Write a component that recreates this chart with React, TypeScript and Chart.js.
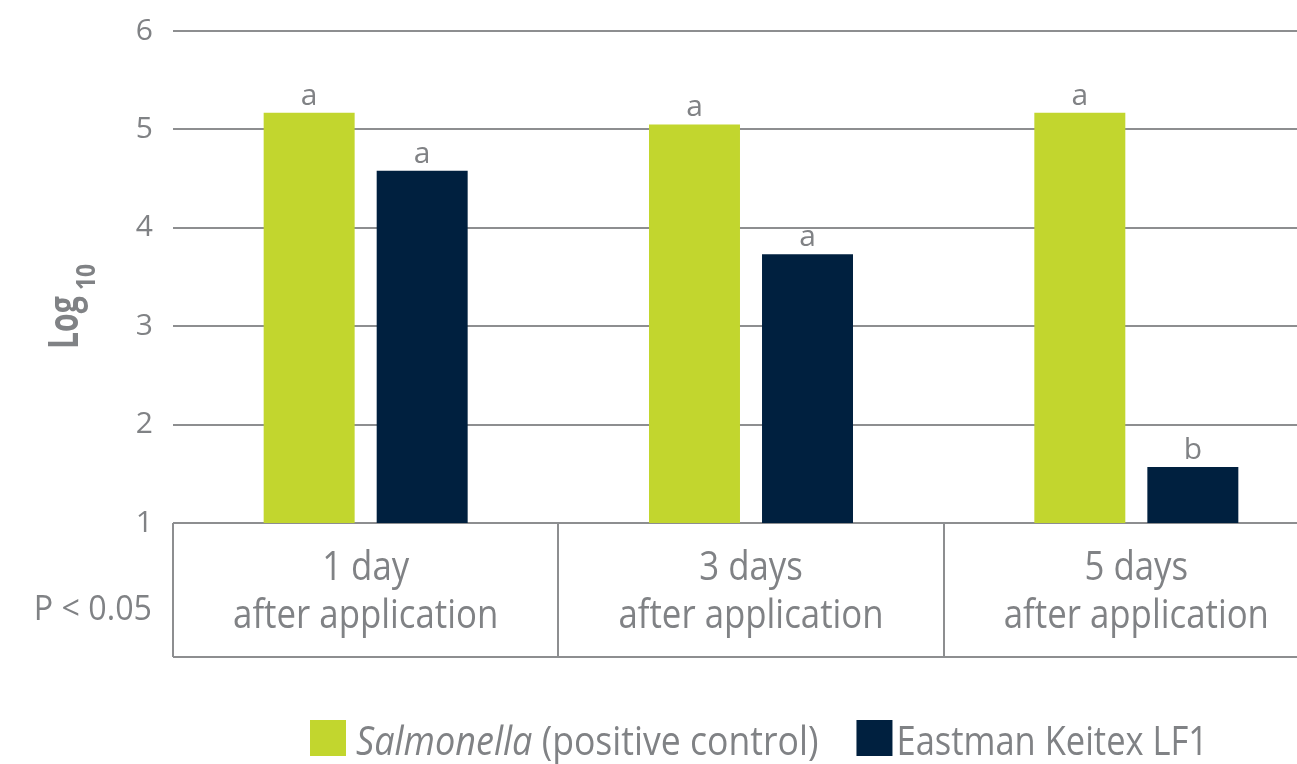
import React, { useEffect, useRef } from 'react';
import { Chart, registerables } from 'chart.js';

Chart.register(...registerables);

// ---- data ----
const categories = ['1 day', '3 days', '5 days'];
const categorySubLabel = 'after application';
const salmonellaValues = [5.17, 5.05, 5.17];
const keitexValues = [4.58, 3.73, 1.57];
const salmonellaLetters = ['a', 'a', 'a'];
const keitexLetters = ['a', 'a', 'b'];
const yMin = 1;
const yMax = 6;
const yStep = 1;
const yTitleMain = 'Log';
const yTitleSub = '10';
const pValueNote = 'P < 0.05';
const legendSalmonellaItalic = 'Salmonella';
const legendSalmonellaRest = ' (positive control)';
const legendKeitex = 'Eastman Keitex LF1';

// ---- styles ----
const GREEN = '#c2d62e';
const NAVY = '#00203f';
const TEXT_GRAY = '#808285';
const LINE_GRAY = '#8d8e90';
const FONT = '"Open Sans", "Noto Sans", sans-serif';
const SX = 0.87;

function drawText(
  ctx: CanvasRenderingContext2D,
  text: string,
  x: number,
  y: number,
  font: string,
  align: 'left' | 'center' | 'right',
  sx: number
): number {
  ctx.save();
  ctx.font = font;
  const w = ctx.measureText(text).width * sx;
  const x0 = align === 'center' ? x - w / 2 : align === 'right' ? x - w : x;
  ctx.translate(x0, y);
  ctx.scale(sx, 1);
  ctx.textAlign = 'left';
  ctx.textBaseline = 'alphabetic';
  ctx.fillStyle = TEXT_GRAY;
  ctx.fillText(text, 0, 0);
  ctx.restore();
  return w;
}

const decorPlugin = {
  id: 'decor',
  afterDatasetsDraw(chart: any) {
    const ctx: CanvasRenderingContext2D = chart.ctx;
    const letters = [salmonellaLetters, keitexLetters];
    letters.forEach((arr, di) => {
      const meta = chart.getDatasetMeta(di);
      meta.data.forEach((bar: any, j: number) => {
        drawText(ctx, arr[j], bar.x, bar.y - 8, `30px ${FONT}`, 'center', 1);
      });
    });
  },
  afterDraw(chart: any) {
    const ctx: CanvasRenderingContext2D = chart.ctx;
    const { left, right, bottom } = chart.chartArea;
    const xs = chart.scales.x;
    const boxBottom = bottom + 134;

    // category box
    ctx.save();
    ctx.strokeStyle = LINE_GRAY;
    ctx.lineWidth = 2;
    ctx.beginPath();
    ctx.moveTo(left, boxBottom);
    ctx.lineTo(right, boxBottom);
    ctx.moveTo(left, bottom);
    ctx.lineTo(left, boxBottom);
    for (let i = 0; i < categories.length - 1; i++) {
      const xb = Math.round((xs.getPixelForValue(i) + xs.getPixelForValue(i + 1)) / 2);
      ctx.moveTo(xb, bottom);
      ctx.lineTo(xb, boxBottom);
    }
    ctx.stroke();
    ctx.restore();

    // category labels
    categories.forEach((c, i) => {
      const cx = xs.getPixelForValue(i);
      drawText(ctx, c, cx, bottom + 57, `40px ${FONT}`, 'center', SX);
      drawText(ctx, categorySubLabel, cx, bottom + 105, `40px ${FONT}`, 'center', SX);
    });

    // p-value note
    drawText(ctx, pValueNote, left - 21, bottom + 97, `35px ${FONT}`, 'right', 0.92);

    // y-axis title (rotated)
    ctx.save();
    ctx.translate(78, 349);
    ctx.rotate(-Math.PI / 2);
    const wMain = drawText(ctx, yTitleMain, 0, 0, `bold 42px ${FONT}`, 'left', 0.72);
    drawText(ctx, yTitleSub, wMain + 6, 17, `bold 27px ${FONT}`, 'left', 0.85);
    ctx.restore();

    // legend
    let lx = 310;
    const ly = 720;
    const sq = 36;
    ctx.fillStyle = GREEN;
    ctx.fillRect(lx, ly, sq, sq);
    lx += sq + 10;
    lx += drawText(ctx, legendSalmonellaItalic, lx, ly + 35, `italic 40px ${FONT}`, 'left', 0.9);
    lx += drawText(ctx, legendSalmonellaRest, lx, ly + 35, `40px ${FONT}`, 'left', 0.89);
    lx += 38;
    ctx.fillStyle = NAVY;
    ctx.fillRect(lx, ly, sq, sq);
    lx += sq + 4;
    drawText(ctx, legendKeitex, lx, ly + 35, `40px ${FONT}`, 'left', 0.862);
  },
};

export default function App() {
  const canvasRef = useRef<HTMLCanvasElement | null>(null);

  useEffect(() => {
    document.body.style.overflow = 'hidden';
    const canvas = canvasRef.current;
    if (!canvas) return;
    const chart = new Chart(canvas, {
      type: 'bar',
      data: {
        labels: categories,
        datasets: [
          {
            label: legendSalmonellaItalic + legendSalmonellaRest,
            data: salmonellaValues,
            backgroundColor: GREEN,
            barPercentage: 0.805,
            categoryPercentage: 0.5866,
          },
          {
            label: legendKeitex,
            data: keitexValues,
            backgroundColor: NAVY,
            barPercentage: 0.805,
            categoryPercentage: 0.5866,
          },
        ],
      },
      options: {
        responsive: false,
        animation: false,
        layout: { padding: { top: 31, bottom: 241, left: 0, right: 0 } },
        plugins: {
          legend: { display: false },
          tooltip: { enabled: false },
        },
        scales: {
          x: { display: false },
          y: {
            min: yMin,
            max: yMax,
            ticks: {
              stepSize: yStep,
              color: TEXT_GRAY,
              font: { family: FONT, size: 30 },
              padding: 20,
            },
            grid: { color: LINE_GRAY, lineWidth: 2, drawTicks: false },
            border: { display: false },
            afterFit: (s: any) => {
              s.width = 173;
              s.paddingTop = 0;
              s.paddingBottom = 0;
            },
          },
        },
      },
      plugins: [decorPlugin],
    });
    return () => chart.destroy();
  }, []);

  return (
    <div
      style={{
        position: 'fixed',
        left: 0,
        top: 0,
        width: 1297,
        height: 764,
        overflow: 'hidden',
        background: '#ffffff',
      }}
    >
      <canvas ref={canvasRef} width={1329} height={764} style={{ width: 1329, height: 764, display: 'block' }} />
    </div>
  );
}
